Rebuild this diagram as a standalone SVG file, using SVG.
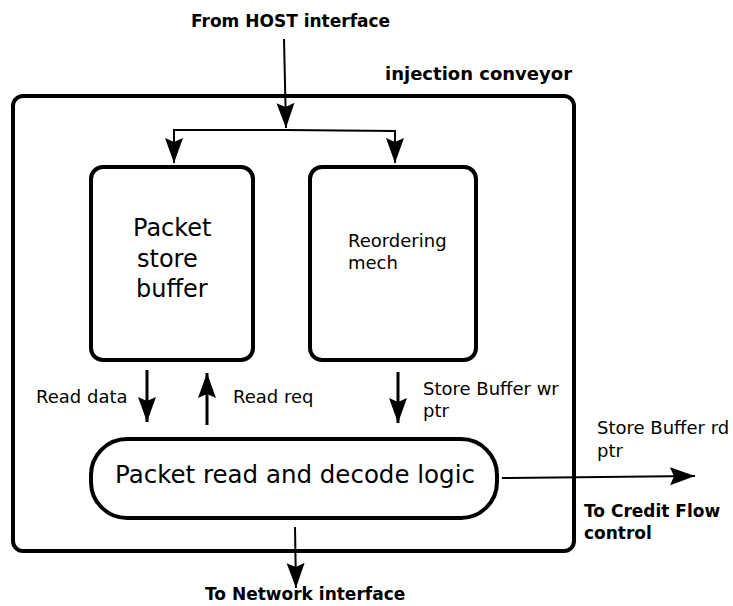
<svg xmlns="http://www.w3.org/2000/svg" width="733" height="606" viewBox="0 0 733 606">
<style>
.box{fill:#fff;stroke:#000;stroke-width:4}
.t{font-family:"DejaVu Sans",sans-serif;fill:#000}
.b{font-family:"DejaVu Sans",sans-serif;font-weight:bold;fill:#000}
.c{fill:none;stroke:#000;stroke-width:2}
.c3{fill:none;stroke:#000;stroke-width:3}
</style>
<defs>
<marker id="ah" markerUnits="userSpaceOnUse" markerWidth="26" markerHeight="20" refX="25" refY="9" orient="auto" viewBox="0 0 26 18">
<path d="M0,0 L25,9 L0,18 L4,9 z" fill="#000"/>
</marker>
</defs>
<rect width="733" height="606" fill="#fff"/>
<g id="conveyor">
<rect class="box" x="13" y="96" width="561" height="455" rx="10"/>
<text class="b" x="385" y="80" font-size="18">injection conveyor</text>
</g>
<g id="packet-store-buffer">
<rect class="box" x="91" y="167" width="162" height="193" rx="12"/>
<text class="t" font-size="24"><tspan x="133" y="236">Packet</tspan><tspan x="137" y="267">store</tspan><tspan x="136" y="297">buffer</tspan></text>
</g>
<g id="reordering-mech">
<rect class="box" x="310" y="167" width="166" height="193" rx="12"/>
<text class="t" font-size="18"><tspan x="348" y="247">Reordering</tspan><tspan x="348" y="269">mech</tspan></text>
</g>
<g id="decode-logic">
<rect class="box" x="91" y="439" width="406" height="79" rx="36"/>
<text class="t" x="115" y="483" font-size="24.5">Packet read and decode logic</text>
</g>
<g id="labels">
<text class="b" x="191" y="27" font-size="17">From HOST interface</text>
<text class="t" x="36" y="403" font-size="18">Read data</text>
<text class="t" x="233" y="403" font-size="18">Read req</text>
<text class="t" font-size="18"><tspan x="423" y="395">Store Buffer wr</tspan><tspan x="423" y="417">ptr</tspan></text>
<text class="t" font-size="18"><tspan x="597" y="434">Store Buffer rd</tspan><tspan x="597" y="457">ptr</tspan></text>
<text class="b" font-size="17"><tspan x="584" y="517">To Credit Flow</tspan><tspan x="584" y="539">control</tspan></text>
<text class="b" x="205" y="600" font-size="17">To Network interface</text>
</g>
<g id="connectors">
<path class="c" d="M284,39 L286,128" marker-end="url(#ah)"/>
<path class="c" d="M286,130 L174,130 L174,163" marker-end="url(#ah)"/>
<path class="c" d="M286,130 L395,131 L395,163" marker-end="url(#ah)"/>
<path class="c3" d="M147,370 L147,422" marker-end="url(#ah)"/>
<path class="c3" d="M207,425 L207,373" marker-end="url(#ah)"/>
<path class="c3" d="M398,372 L398,423" marker-end="url(#ah)"/>
<path class="c" d="M502,478 L695,476" marker-end="url(#ah)"/>
<path class="c" d="M295,527 L296,588" marker-end="url(#ah)"/>
</g>
</svg>
